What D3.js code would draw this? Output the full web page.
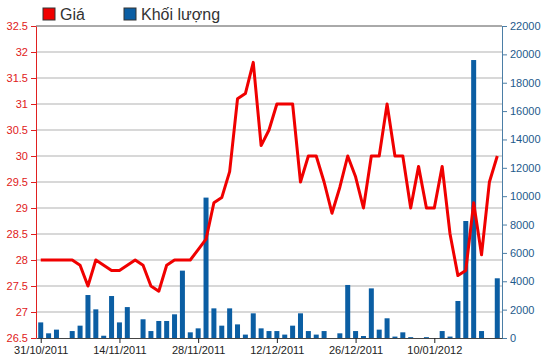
<!DOCTYPE html>
<html>
<head>
<meta charset="utf-8">
<script src="https://cdn.jsdelivr.net/npm/d3@7"></script>
<style>
  body { margin: 0; background: #fff; }
  svg { display: block; font-family: Arial, "Liberation Sans", sans-serif; }
</style>
</head>
<body>
<div id="chart"></div>
<script>
// chart size and plot box
const width = 550;
const height = 364;
const margin = {left: 36, right: 48, top: 26, bottom: 26};

// trading days (categories)
const dates = [
  "31/10/2011","01/11/2011","02/11/2011","03/11/2011","04/11/2011",
  "07/11/2011","08/11/2011","09/11/2011","10/11/2011","11/11/2011",
  "14/11/2011","15/11/2011","16/11/2011","17/11/2011","18/11/2011",
  "21/11/2011","22/11/2011","23/11/2011","24/11/2011","25/11/2011",
  "28/11/2011","29/11/2011","30/11/2011","01/12/2011","02/12/2011",
  "05/12/2011","06/12/2011","07/12/2011","08/12/2011","09/12/2011",
  "12/12/2011","13/12/2011","14/12/2011","15/12/2011","16/12/2011",
  "19/12/2011","20/12/2011","21/12/2011","22/12/2011","23/12/2011",
  "26/12/2011","27/12/2011","28/12/2011","29/12/2011","30/12/2011",
  "03/01/2012","04/01/2012","05/01/2012","06/01/2012","09/01/2012",
  "10/01/2012","11/01/2012","12/01/2012","13/01/2012","16/01/2012",
  "17/01/2012","18/01/2012","19/01/2012","20/01/2012"
];

// price (Giá)
const price = [
  28.0, 28.0, 28.0, 28.0, 28.0, 27.9, 27.5, 28.0, 27.9, 27.8,
  27.8, 27.9, 28.0, 27.9, 27.5, 27.4, 27.9, 28.0, 28.0, 28.0,
  28.2, 28.4, 29.1, 29.2, 29.7, 31.1, 31.2, 31.8, 30.2, 30.5,
  31.0, 31.0, 31.0, 29.5, 30.0, 30.0, 29.5, 28.9, 29.4, 30.0,
  29.6, 29.0, 30.0, 30.0, 31.0, 30.0, 30.0, 29.0, 29.8, 29.0,
  29.0, 29.8, 28.5, 27.7, 27.8, 29.1, 28.1, 29.5, 30.0
];

// volume (Khối lượng)
const volume = [
  1100, 330, 590, 0, 490, 870, 3030, 2020, 160, 2960,
  1100, 2180, 0, 1320, 490, 1200, 1200, 1670, 4750, 400,
  680, 9900, 2090, 870, 2090, 960, 240, 1740, 680, 490,
  490, 240, 870, 1740, 490, 240, 490, 0, 330, 3740,
  490, 140, 3500, 590, 1390, 100, 400, 60, 0, 60,
  0, 490, 100, 2610, 8250, 19600, 490, 0, 4210
];

// tick labels
const xTicks = [0, 10, 20, 30, 40, 50];
const priceTicks = [26.5, 27, 27.5, 28, 28.5, 29, 29.5, 30, 30.5, 31, 31.5, 32, 32.5];
const volTicks = [0, 2000, 4000, 6000, 8000, 10000, 12000, 14000, 16000, 18000, 20000, 22000];

const red = "#f00000";
const blue = "#0b5ea3";

const svg = d3.select("#chart")
  .append("svg")
  .attr("width", width)
  .attr("height", height);

const plotLeft = margin.left, plotRight = width - margin.right;
const plotTop = margin.top, plotBottom = height - margin.bottom;

// scales
let x = d3.scaleLinear()
  .domain([-0.6, dates.length - 0.4])
  .range([plotLeft, plotRight]);

let yPrice = d3.scaleLinear()
  .domain([26.5, 32.5])
  .range([plotBottom, plotTop]);

let yVol = d3.scaleLinear()
  .domain([0, 22000])
  .range([plotBottom, plotTop]);

// grid lines
svg.append("g")
  .selectAll("line")
  .data(priceTicks.slice(1, -1))
  .enter()
  .append("line")
    .attr("x1", plotLeft)
    .attr("x2", plotRight)
    .attr("y1", d => yPrice(d))
    .attr("y2", d => yPrice(d))
    .attr("stroke", "#cbcbcb")
    .attr("stroke-width", 1.5);

// top border
svg.append("line")
  .attr("x1", plotLeft).attr("x2", plotRight)
  .attr("y1", plotTop).attr("y2", plotTop)
  .attr("stroke", "#555")
  .attr("stroke-width", 1);

// bars
svg.selectAll(".bar")
  .data(volume)
  .enter()
  .append("rect")
    .attr("class", "bar")
    .attr("x", (d, i) => x(i) - 2.5)
    .attr("y", d => yVol(d))
    .attr("width", 5)
    .attr("height", d => plotBottom - yVol(d))
    .attr("fill", blue);

// price line
const line = d3.line()
  .x((d, i) => x(i))
  .y(d => yPrice(d));

svg.append("path")
  .datum(price)
  .attr("d", line)
  .attr("fill", "none")
  .attr("stroke", red)
  .attr("stroke-width", 3)
  .attr("stroke-linejoin", "round");

// left axis (price)
const axL = svg.append("g")
  .attr("transform", `translate(${plotLeft},0)`)
  .call(d3.axisLeft(yPrice)
    .tickValues(priceTicks)
    .tickSize(5)
    .tickSizeOuter(0)
    .tickFormat(d => String(+d.toFixed(1))));
axL.selectAll("path, line").attr("stroke", "#e02020");
axL.selectAll("text").attr("fill", "#e02020").attr("font-size", 11).attr("font-family", "Arial, 'Liberation Sans', sans-serif");

// right axis (volume)
const axR = svg.append("g")
  .attr("transform", `translate(${plotRight},0)`)
  .call(d3.axisRight(yVol)
    .tickValues(volTicks)
    .tickSize(5)
    .tickSizeOuter(0)
    .tickFormat(d3.format("d")));
axR.selectAll("path, line").attr("stroke", "#4b7ea6");
axR.selectAll("text").attr("fill", "#1e5a8c").attr("font-size", 11).attr("font-family", "Arial, 'Liberation Sans', sans-serif");

// bottom axis (dates)
const axB = svg.append("g")
  .attr("transform", `translate(0,${plotBottom})`)
  .call(d3.axisBottom(x)
    .tickValues(xTicks)
    .tickSize(5)
    .tickSizeOuter(0)
    .tickFormat(i => dates[i]));
axB.select(".domain").attr("stroke", "#444");
axB.selectAll("line").attr("stroke", "#222");
axB.selectAll("text").attr("fill", "#222").attr("font-size", 11).attr("font-family", "Arial, 'Liberation Sans', sans-serif");

// legend
const legend = [
  {name: "Giá", color: red, x: 43},
  {name: "Khối lượng", color: blue, x: 124}
];
const lg = svg.append("g")
  .selectAll("g")
  .data(legend)
  .enter()
  .append("g")
  .attr("transform", d => `translate(${d.x},8)`);
lg.append("rect")
  .attr("width", 12)
  .attr("height", 12)
  .attr("fill", d => d.color)
  .attr("stroke", "#333")
  .attr("stroke-width", 1);
lg.append("text")
  .attr("x", 17)
  .attr("y", 12)
  .attr("font-size", 16)
  .attr("fill", "#333")
  .text(d => d.name);
</script>
</body>
</html>
